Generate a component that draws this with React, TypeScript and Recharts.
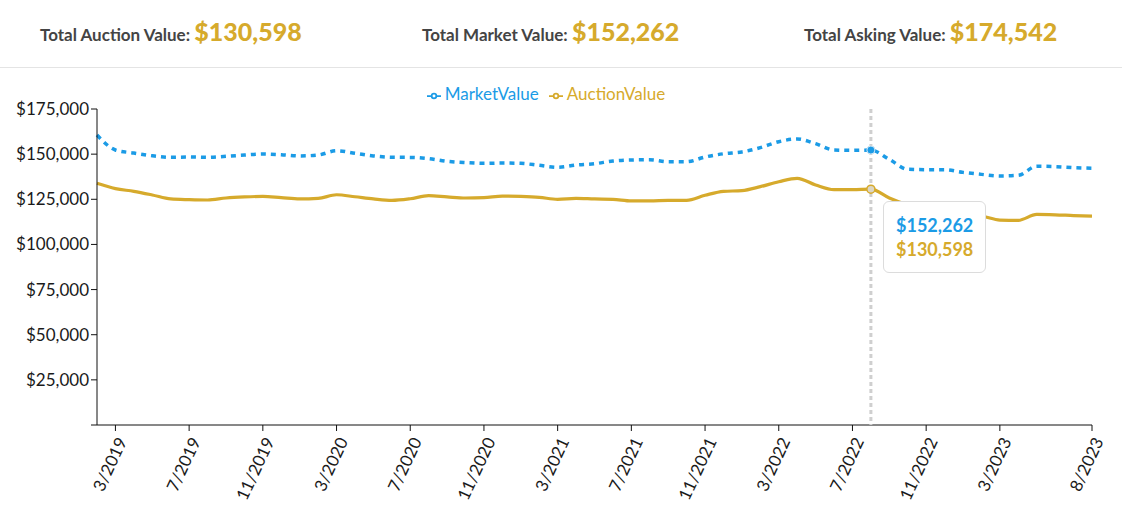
import { CartesianGrid, Legend, Line, LineChart, Tooltip, XAxis, YAxis } from "recharts";

const months = [
    "2/2019", "3/2019", "4/2019", "5/2019", "6/2019", "7/2019", "8/2019", "9/2019", "10/2019", "11/2019", "12/2019",
    "1/2020", "2/2020", "3/2020", "4/2020", "5/2020", "6/2020", "7/2020", "8/2020", "9/2020", "10/2020", "11/2020", "12/2020",
    "1/2021", "2/2021", "3/2021", "4/2021", "5/2021", "6/2021", "7/2021", "8/2021", "9/2021", "10/2021", "11/2021", "12/2021",
    "1/2022", "2/2022", "3/2022", "4/2022", "5/2022", "6/2022", "7/2022", "8/2022", "9/2022", "10/2022", "11/2022", "12/2022",
    "1/2023", "2/2023", "3/2023", "4/2023", "5/2023", "6/2023", "7/2023", "8/2023",
];

const marketValue = [
    160600, 152300, 150600, 149100, 148250, 148400, 148250, 148800, 149500, 150100, 149700,
    149000, 149500, 151900, 150500, 149000, 148250, 148200, 147500, 146000, 145300, 144900, 145100,
    144900, 143800, 142700, 144000, 144700, 146200, 146800, 146900, 145800, 145800, 148400, 150200,
    151200, 153600, 156900, 158400, 155800, 152300, 152100, 152262, 147100, 141600, 141400, 141400,
    139900, 138800, 137900, 138300, 143300, 143100, 142500, 142200,
];

const auctionValue = [
    133850, 130900, 129400, 127400, 125200, 124800, 124600, 125700, 126300, 126600, 125900,
    125200, 125500, 127500, 126400, 125200, 124400, 125300, 127000, 126300, 125700, 125900, 126800,
    126600, 126100, 125000, 125500, 125200, 125000, 124100, 124100, 124400, 124400, 127200, 129400,
    129800, 132000, 134700, 136600, 132900, 130300, 130300, 130598, 125700, 121800, 119000, 117400,
    116300, 115700, 113500, 113300, 116600, 116400, 116000, 115700,
];

const xTicks = ["3/2019", "7/2019", "11/2019", "3/2020", "7/2020", "11/2020", "3/2021", "7/2021", "11/2021", "3/2022", "7/2022", "11/2022", "3/2023", "8/2023"];
const yTicks = [0, 25000, 50000, 75000, 100000, 125000, 150000, 175000];

const totals = [
    { label: "Total Auction Value:", value: "$130,598", left: 40 },
    { label: "Total Market Value:", value: "$152,262", left: 422 },
    { label: "Total Asking Value:", value: "$174,542", left: 804 },
];

const BLUE = "#1b9be6";
const GOLD = "#d6aa2c";
const FONT = "Lato, 'Open Sans', sans-serif";

const data = months.map((month, i) => ({
    month,
    MarketValue: marketValue[i],
    AuctionValue: auctionValue[i],
}));

const money = (v: number) => "$" + v.toLocaleString("en-US");

const AngledTick = ({ x, y, payload }: any) => (
    <g transform={`translate(${x + 12},${y + 8})`}>
        <text x={0} y={0} textAnchor="end" transform="rotate(-65)" fill="#1a1a1a" fontSize={17} fontFamily={FONT}>
            {payload.value}
        </text>
    </g>
);

const TipBox = ({ payload }: any) => {
    if (!payload || !payload.length) return null;
    return (
        <div style={{ background: "#fff", border: "1px solid #dcdcdc", borderRadius: 6, padding: "11px 12px", fontFamily: FONT, fontWeight: 700, fontSize: 18, lineHeight: "24px" }}>
            {payload.map((p: any) => (
                <div key={p.dataKey} style={{ color: p.color }}>{money(p.value)}</div>
            ))}
        </div>
    );
};

const App = () => {
    return (
        <div style={{ position: "absolute", left: 0, top: 0, width: 1122, height: 508, background: "#fff", fontFamily: FONT }}>
            <div style={{ position: "absolute", left: 0, top: 0, width: 1122, height: 67, borderBottom: "1px solid #e4e4e4" }}>
                {totals.map((t) => (
                    <div key={t.label} style={{ position: "absolute", left: t.left, top: 16, whiteSpace: "nowrap" }}>
                        <span style={{ color: "#444", fontSize: 17, fontWeight: 700 }}>{t.label} </span>
                        <span style={{ color: GOLD, fontSize: 25, fontWeight: 900 }}>{t.value}</span>
                    </div>
                ))}
            </div>
            <div style={{ position: "absolute", left: 0, top: 0 }}>
                <LineChart width={1122} height={508} data={data} margin={{ top: 85, right: 30, left: 10, bottom: 0 }}>
                    <CartesianGrid stroke="none" />
                    <XAxis
                        dataKey="month"
                        ticks={xTicks}
                        interval={0}
                        height={83}
                        tick={<AngledTick />}
                        tickSize={6}
                        stroke="#111"
                    />
                    <YAxis
                        width={87}
                        domain={[0, 175000]}
                        ticks={yTicks}
                        tickFormatter={(v: number) => (v === 0 ? "" : money(v))}
                        tick={{ fill: "#1a1a1a", fontSize: 17, fontFamily: FONT }}
                        tickSize={6}
                        stroke="#111"
                    />
                    <Legend
                        verticalAlign="top"
                        iconType="line"
                        itemSorter={(item: any) => (item.value === "MarketValue" ? 0 : 1)}
                        wrapperStyle={{ fontSize: 17, fontFamily: FONT, lineHeight: "24px", top: 82 }}
                    />
                    <Tooltip
                        active
                        defaultIndex={42}
                        position={{ x: 883, y: 201 }}
                        content={<TipBox />}
                        cursor={{ stroke: "#cfcfcf", strokeWidth: 3, strokeDasharray: "4 3" }}
                    />
                    <Line
                        type="monotone"
                        dataKey="MarketValue"
                        stroke={BLUE}
                        strokeWidth={3.5}
                        strokeDasharray="5 5"
                        dot={false}
                        activeDot={{ r: 4, fill: BLUE, stroke: "#cfe6f5", strokeWidth: 1 }}
                        isAnimationActive={false}
                    />
                    <Line
                        type="monotone"
                        dataKey="AuctionValue"
                        stroke={GOLD}
                        strokeWidth={3.2}
                        dot={false}
                        activeDot={{ r: 4, fill: "#dcd6c4", stroke: GOLD, strokeWidth: 1.5 }}
                        isAnimationActive={false}
                    />
                </LineChart>
            </div>
        </div>
    );
};

export default App;
